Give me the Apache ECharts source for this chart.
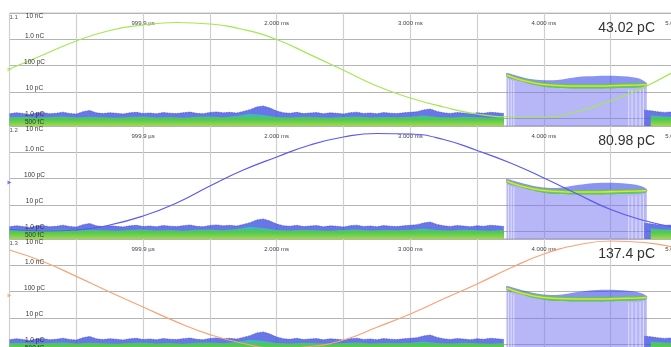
<!DOCTYPE html>
<html>
<head>
<meta charset="utf-8">
<script src="https://cdn.jsdelivr.net/npm/echarts@6/dist/echarts.min.js"></script>
<style>
  html, body { margin: 0; padding: 0; background: #fff; }
  #chart { width: 671px; height: 347px; }
</style>
</head>
<body>
<div id="chart"></div>
<script>
// ---- axis ticks ----
const xTickValues = [1, 2, 3, 4, 5];
const xTickLabels = ['999.9 µs', '2.000 ms', '3.000 ms', '4.000 ms', '5.000 ms'];
const yTickValues = [0.5, 1, 10, 100, 1000, 10000];
const yTickLabels = ['500 fC', '1.0 pC', '10 pC', '100 pC', '1.0 nC', '10 nC'];

// ---- channels ----
const channelNames = ['1.1', '1.2', '1.3'];
const channelCharge = ['43.02 pC', '80.98 pC', '137.4 pC'];
const channelColors = ['#a3e852', '#5a5af0', '#f7a377'];

// sweep samples (ms) and charge per channel (pC)
const waveT = [0, 0.25, 0.5, 0.75, 1, 1.25, 1.5, 1.75, 2, 2.25, 2.5, 2.75, 3, 3.25, 3.5, 3.75, 4, 4.25, 4.5, 4.75, 5];
const waveCh1 = [73.8, 252, 859, 2158, 3493, 4350, 3812, 2355, 980, 260, 65.9, 16.6, 5.81, 2.64, 1.43, 1.10, 1.10, 1.78, 4.59, 15.0, 70.7];
const waveCh2 = [1.15, 1.01, 1.10, 1.70, 3.75, 11.7, 52.0, 211, 661, 1892, 3812, 5190, 4960, 3063, 1167, 391, 105, 25.8, 6.62, 2.53, 1.31];
const waveCh3 = [3812, 1393, 377, 96, 25.8, 6.98, 2.30, 1.05, 0.68, 0.81, 1.43, 4.36, 14.0, 52.9, 195, 787, 2685, 5910, 8400, 7360, 4540];
const waves = [waveCh1, waveCh2, waveCh3];
const markerLevel = 70.7; // channel reference marker (pC)

// ---- noise floor persistence band (pC), shared by the channels ----
const floorStepBlue = 0.05;
const floorBlueLeft = [
  1.45, 1.60, 1.50, 1.38, 1.55, 1.62, 1.47, 1.52, 1.68, 1.50,
  1.42, 1.75, 1.95, 1.58, 1.48, 1.60, 1.52, 1.44, 1.58, 1.66,
  1.50, 1.56, 1.46, 1.62, 1.54, 1.48, 1.60, 1.70, 1.52, 1.46,
  1.64, 1.72, 1.58, 1.66, 1.55, 1.80, 2.10, 2.65, 2.90, 2.40,
  1.85, 1.60, 1.52, 1.66, 1.48, 1.56, 1.62, 1.45, 1.58, 1.52,
  1.44, 1.60, 1.68, 1.50, 1.56, 1.46, 1.62, 1.54, 1.48, 1.58,
  1.66, 1.75, 2.05, 2.20, 1.80, 1.58, 1.50, 1.62, 1.55, 1.46,
  1.60, 1.52, 1.66, 1.58, 1.50
];
const floorBlueRightStart = 4.75;
const floorBlueRight = [2.00, 1.90, 1.75, 1.65, 1.70, 1.60];
const floorStepGreen = 0.1;
const floorGreenLeft = [
  1.08, 1.12, 1.04, 1.10, 1.15, 1.06, 1.12, 1.08, 1.02, 1.10,
  1.14, 1.06, 1.10, 1.04, 1.12, 1.16, 1.08, 1.20, 1.45, 1.30,
  1.10, 1.06, 1.12, 1.08, 1.04, 1.10, 1.14, 1.06, 1.10, 1.08,
  1.12, 1.25, 1.10, 1.06, 1.12, 1.08, 1.04, 1.10
];
const floorGreenRightStart = 4.8;
const floorGreenRight = [1.25, 1.15, 1.10];

// ---- pulse region (pC) per channel ----
const pulseT = [3.72, 3.78, 3.86, 3.97, 4.10, 4.25, 4.40, 4.55, 4.70, 4.77];
const bandOuter = [
  [52, 43.6, 33.6, 28.2, 28.2, 36.6, 40, 40, 33.6, 21.6],
  [96, 80.6, 61.9, 47.6, 43.6, 56.8, 67.6, 67.6, 56.8, 40.0],
  [163, 136, 105, 80.6, 73.8, 96, 115, 115, 96, 67.6]
];
const bandInner = [
  [47.6, 38.3, 30.8, 23.6, 20.7, 19.8, 19.8, 20.7, 21.6, 19.8],
  [88, 70.7, 56.8, 43.6, 38.3, 36.6, 36.6, 38.3, 40.0, 36.6],
  [149, 120, 96, 73.8, 64.7, 61.9, 61.9, 64.7, 67.6, 61.9]
];
const bandCore = [
  [43.6, 33.6, 25.8, 19.8, 17.4, 16.6, 16.6, 17.4, 18.2, 19.0],
  [80.6, 61.9, 47.6, 36.6, 32.2, 30.8, 30.8, 32.2, 33.6, 35.1],
  [136, 105, 80.6, 61.9, 54.3, 52.0, 52.0, 54.3, 56.8, 59.3]
];
const bandBase = [
  [38.3, 29.5, 22.6, 16.6, 14.0, 13.4, 13.4, 14.0, 14.6, 16.6],
  [70.7, 54.3, 41.8, 30.8, 25.8, 24.7, 24.7, 25.8, 27.0, 30.8],
  [120, 91.9, 70.7, 52.0, 43.6, 41.8, 41.8, 43.6, 45.6, 52.0]
];
// sparse acquisitions at the edges of the pulse window (ms)
const pulseEdgeGaps = [3.735, 3.755, 3.775, 4.635, 4.66, 4.69, 4.72, 4.745];

// ---- layout ----
const panelTop = [13, 126, 239];
const panelHeight = 113;
const FONT = 'Liberation Sans, Arial, sans-serif';

function pairs(start, step, values) {
  return values.map((v, i) => [start + i * step, v]);
}
const floorBlueData = pairs(0, floorStepBlue, floorBlueLeft)
  .concat([[4.2, '-']], pairs(floorBlueRightStart, floorStepBlue, floorBlueRight));
const floorGreenData = pairs(0, floorStepGreen, floorGreenLeft)
  .concat([[4.2, '-']], pairs(floorGreenRightStart, floorStepGreen, floorGreenRight));

function xLabel(v) {
  const i = xTickValues.findIndex(t => Math.abs(t - v) < 1e-6);
  return i < 0 ? '' : xTickLabels[i];
}
function yLabel(v) {
  const i = yTickValues.findIndex(t => Math.abs(Math.log10(t) - Math.log10(v)) < 0.01);
  return i < 0 ? '' : yTickLabels[i];
}

function bandPolygon(gi, upper, lower, fill) {
  return {
    type: 'custom', xAxisIndex: gi, yAxisIndex: 2 * gi, z: 4, silent: true,
    data: [[pulseT[0], lower[0]]],
    renderItem: function (params, api) {
      const pts = [];
      for (let i = 0; i < pulseT.length; i++) pts.push(api.coord([pulseT[i], upper[i]]));
      for (let i = pulseT.length - 1; i >= 0; i--) pts.push(api.coord([pulseT[i], lower[i]]));
      return { type: 'polygon', shape: { points: pts, smooth: 0.3 }, style: { fill: fill } };
    }
  };
}

function edgeStripes(gi) {
  return {
    type: 'custom', xAxisIndex: gi, yAxisIndex: 2 * gi, z: 3, silent: true,
    data: pulseEdgeGaps.map(t => [t, 0.5]),
    renderItem: function (params, api) {
      const t = api.value(0);
      const bottom = api.coord([t, 0.5]);
      // height reaches the band base interpolated at t
      let k = 0;
      while (k < pulseT.length - 2 && pulseT[k + 1] < t) k++;
      const f = (t - pulseT[k]) / (pulseT[k + 1] - pulseT[k]);
      const base = bandBase[gi][k] + f * (bandBase[gi][k + 1] - bandBase[gi][k]);
      const top = api.coord([t, base]);
      return { type: 'line', shape: { x1: bottom[0], y1: bottom[1], x2: top[0], y2: top[1] + 2 },
        style: { stroke: 'rgba(255,255,255,0.55)', lineWidth: 1 } };
    }
  };
}

const grids = [], xAxes = [], yAxes = [], series = [], titles = [], graphics = [];

panelTop.forEach((top, gi) => {
  grids.push({ left: 9.5, right: -6.5, top: top, height: panelHeight, show: true,
    containLabel: false, outerBoundsMode: 'none',
    borderColor: '#c4c4c4', borderWidth: 1 });

  xAxes.push({
    type: 'value', gridIndex: gi, min: 0, max: 5, interval: 0.5, position: 'top',
    axisLine: { show: false }, axisTick: { show: false },
    splitLine: { show: true, lineStyle: { color: '#d0d0d0', width: 1.2 } },
    axisLabel: { inside: true, margin: 7, fontSize: 6, color: '#444', fontFamily: FONT,
      formatter: xLabel }
  });

  const yBase = { type: 'log', logBase: 10, gridIndex: gi, min: 0.5, max: 10000, position: 'left',
    axisLine: { show: false }, axisTick: { show: false } };
  // gridlines
  yAxes.push(Object.assign({}, yBase, {
    axisLabel: { show: false },
    splitLine: { show: true, lineStyle: { color: '#b4b4b4', width: 1 } }
  }));
  // charge labels, drawn above the traces
  yAxes.push(Object.assign({}, yBase, {
    z: 10, splitLine: { show: false },
    axisLabel: { inside: true, margin: 25, align: 'center', verticalAlign: 'bottom',
      verticalAlignMaxLabel: 'top', fontSize: 6.5, color: '#333', fontFamily: FONT,
      formatter: yLabel }
  }));

  const yi = 2 * gi;
  series.push({
    type: 'line', xAxisIndex: gi, yAxisIndex: yi, z: 2, silent: true,
    data: floorBlueData, symbol: 'none', connectNulls: false,
    lineStyle: { width: 0.8, color: '#3444dc', type: 'dotted' },
    areaStyle: { color: '#4454e2', opacity: 0.8, origin: 'start' }
  });
  series.push({
    type: 'line', xAxisIndex: gi, yAxisIndex: yi, z: 2, silent: true,
    data: floorGreenData, symbol: 'none', connectNulls: false,
    lineStyle: { width: 0 },
    areaStyle: { origin: 'start', opacity: 1,
      color: new echarts.graphic.LinearGradient(0, 0, 0, 1, [
        { offset: 0, color: '#3cb6d6' }, { offset: 0.45, color: '#50c850' }, { offset: 1, color: '#a2d84c' }
      ]) }
  });
  // pulse acquisition area
  series.push({
    type: 'line', xAxisIndex: gi, yAxisIndex: yi, z: 3, silent: true,
    data: pulseT.map((t, i) => [t, bandBase[gi][i]]), symbol: 'none',
    lineStyle: { width: 0 },
    areaStyle: { color: 'rgba(112,112,240,0.5)', origin: 'start', opacity: 1 }
  });
  series.push(edgeStripes(gi));
  series.push(bandPolygon(gi, bandOuter[gi], bandBase[gi], 'rgba(40,58,230,0.55)'));
  series.push(bandPolygon(gi, bandInner[gi], bandBase[gi], '#5ccb5e'));
  series.push({
    type: 'line', xAxisIndex: gi, yAxisIndex: yi, z: 5, silent: true,
    data: pulseT.map((t, i) => [t, bandCore[gi][i]]), symbol: 'none', smooth: 0.3,
    lineStyle: { width: 1.6, color: '#e6dc3a' }
  });
  // channel trace
  series.push({
    type: 'line', xAxisIndex: gi, yAxisIndex: yi, z: 6, silent: true,
    data: waveT.map((t, i) => [t, waves[gi][i]]), symbol: 'none', smooth: true,
    lineStyle: { width: 1.2, color: channelColors[gi] }
  });
  series.push({
    type: 'scatter', xAxisIndex: gi, yAxisIndex: yi, z: 7, silent: true, clip: false,
    data: [[0, markerLevel]], symbol: 'triangle', symbolRotate: -90, symbolSize: 4,
    itemStyle: { color: channelColors[gi] }
  });

  titles.push({ text: channelCharge[gi], right: 11, top: top + 3,
    textStyle: { fontSize: 14, fontWeight: 'normal', color: '#333', fontFamily: FONT } });
  graphics.push({ type: 'text', left: 9.5, top: top + 1, z: 20,
    style: { text: channelNames[gi], fontSize: 6, fill: '#555', fontFamily: FONT } });
});

const chart = echarts.init(document.getElementById('chart'), null, { renderer: 'canvas' });
chart.setOption({
  animation: false,
  backgroundColor: '#fff',
  title: titles,
  grid: grids,
  xAxis: xAxes,
  yAxis: yAxes,
  series: series,
  graphic: graphics
});
</script>
</body>
</html>
